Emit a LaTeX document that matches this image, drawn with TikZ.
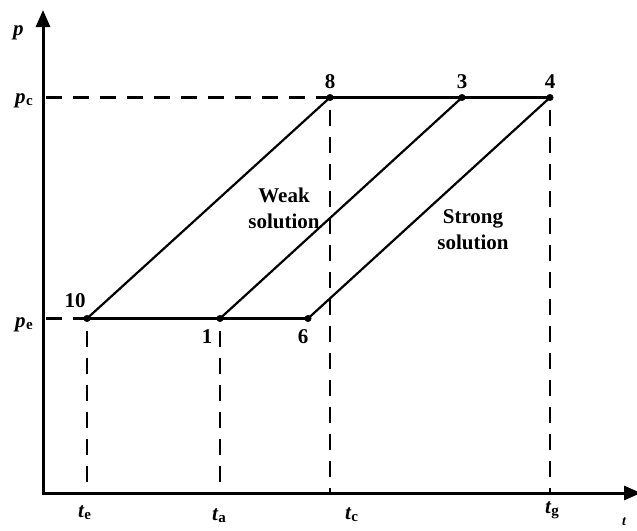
\documentclass[tikz,border=0pt]{standalone}
\usepackage{fontspec}
\setmainfont{Liberation Serif}
\usetikzlibrary{arrows.meta}
\newcommand\varlbl[2]{{\itshape #1}\kern0.3pt\lower2pt\hbox{\fontsize{15}{15}\selectfont #2}}
\begin{document}
\begin{tikzpicture}[x=1pt,y=-1pt,
  dot/.style={circle,fill=black,draw=black,inner sep=0pt,minimum size=6.5pt},
  axis/.style={line width=3pt,-{Triangle[length=17pt,width=14pt]}},
  seg/.style={line width=2.2pt},
  guide/.style={line width=2.4pt,dash pattern=on 16pt off 11pt},
  lbl/.style={font=\fontsize{21}{26}\selectfont\bfseries,inner sep=0pt},
]
\useasboundingbox (0,0) rectangle (637,530);
% axes
\coordinate (O) at (43,493);
\coordinate (Ox) at (41.5,493);
\coordinate (Oy) at (43,494.5);
\coordinate (ytop) at (43,10);
\coordinate (xend) at (641,493);
\draw[axis] (Oy) -- (ytop);
\draw[axis] (Ox) -- (xend);
\coordinate (ypc) at (43,97.5);
\coordinate (ype) at (43,318.5);
% points
\node[dot] (p10) at (87,318.5) {};
\node[dot] (p1) at (220,318.5) {};
\node[dot] (p6) at (308,318.5) {};
\node[dot] (p8) at (330,97.5) {};
\node[dot] (p3) at (462,97.5) {};
\node[dot] (p4) at (550,97.5) {};
% solid lines
\draw[seg] (p10.center) -- (p6.center);
\draw[seg] (p8.center) -- (p4.center);
\draw[seg] (p10.center) -- (p8.center);
\draw[seg] (p1.center) -- (p3.center);
\draw[seg] (p6.center) -- (p4.center);
% dashed guides
\draw[guide] (ypc) ++(3,0) -- (p8.center);
\draw[guide] (ype) ++(3,0) -- (p10.center);
\draw[guide] (p10.center) ++(0,12) -- (p10 |- O);
\draw[guide] (p1.center) ++(0,12) -- (p1 |- O);
\draw[guide] (p8.center) ++(0,12) -- (p8 |- O);
\draw[guide] (p4.center) ++(0,12) -- (p4 |- O);
% point labels
\node[lbl,anchor=base] (l10) at (75,307) {10};
\node[lbl,anchor=base] (l1) at (207,343) {1};
\node[lbl,anchor=base] (l6) at (303,343) {6};
\node[lbl,anchor=base] (l8) at (330,88) {8};
\node[lbl,anchor=base] (l3) at (462,88) {3};
\node[lbl,anchor=base] (l4) at (550,88) {4};
% axis labels
\node[lbl,anchor=base west] (lp) at (13,35) {\itshape p};
\node[lbl,anchor=base west] (lpc) at (15,103) {\varlbl{p}{c}};
\node[lbl,anchor=base west] (lpe) at (15,327) {\varlbl{p}{e}};
\node[lbl,anchor=base west] (lte) at (78,517) {\varlbl{t}{e}};
\node[lbl,anchor=base west] (lta) at (212,520) {\varlbl{t}{a}};
\node[lbl,anchor=base west] (ltc) at (345,519) {\varlbl{t}{c}};
\node[lbl,anchor=base west] (ltg) at (545,513) {\varlbl{t}{g}};
\node[lbl,anchor=base west,font=\fontsize{14}{14}\selectfont\bfseries] (lt) at (622,525) {\itshape t};
% region labels
\node[lbl,align=center] (weak) at (284,208) {Weak\\solution};
\node[lbl,align=center] (strong) at (473,230) {Strong\\solution};
\end{tikzpicture}
\end{document}
